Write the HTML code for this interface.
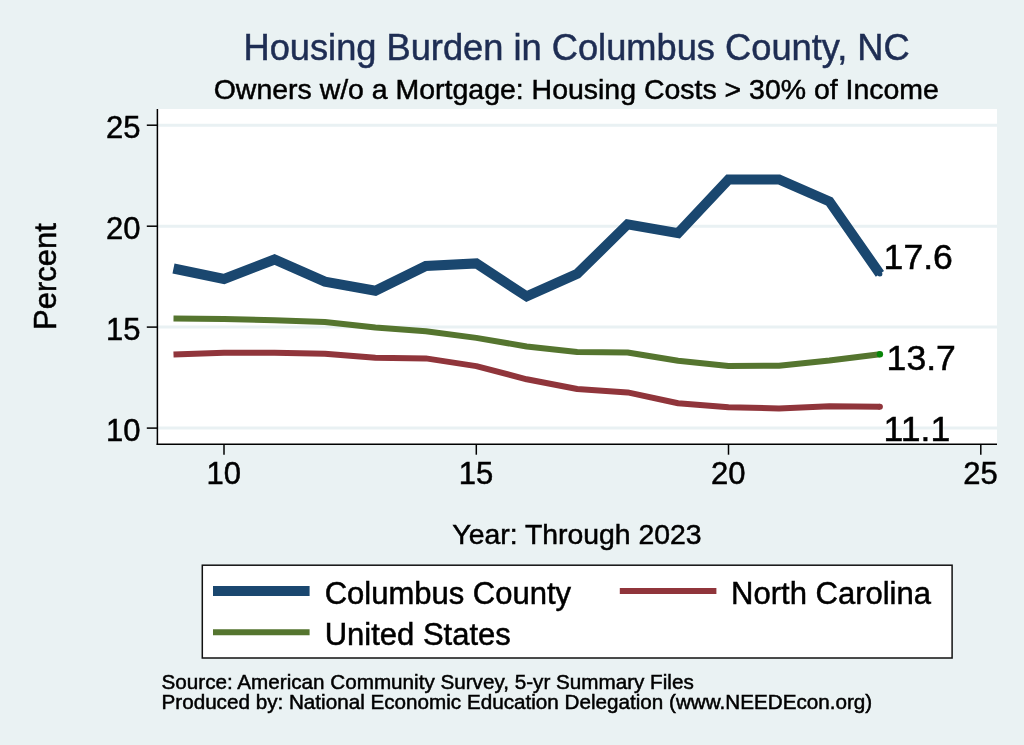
<!DOCTYPE html>
<html><head><meta charset="utf-8"><title>Housing Burden in Columbus County, NC</title>
<style>
html,body{margin:0;padding:0;background:#eaf2f3;}
svg{display:block;font-family:"Liberation Sans",sans-serif;}
text{stroke:#000;stroke-width:0.5px;}
#title{stroke:#1e2d53;}
</style></head><body>
<svg width="1024" height="745" viewBox="0 0 1024 745">
<rect width="1024" height="745" fill="#eaf2f3"/>
<rect x="157" y="109" width="840" height="335.5" fill="#fff"/>
<line x1="158" x2="997" y1="428.1" y2="428.1" stroke="#e9f1f3" stroke-width="3"/><line x1="158" x2="997" y1="327.1" y2="327.1" stroke="#e9f1f3" stroke-width="3"/><line x1="158" x2="997" y1="226.2" y2="226.2" stroke="#e9f1f3" stroke-width="3"/><line x1="158" x2="997" y1="125.2" y2="125.2" stroke="#e9f1f3" stroke-width="3"/>
<line x1="157.4" x2="157.4" y1="109" y2="445.1" stroke="#000" stroke-width="1.5"/>
<line x1="156.6" x2="997" y1="444.3" y2="444.3" stroke="#000" stroke-width="1.6"/>
<line x1="146.8" x2="157.5" y1="428.1" y2="428.1" stroke="#000" stroke-width="1.5"/><text x="140.6" y="441.2" text-anchor="end" font-size="31">10</text><line x1="146.8" x2="157.5" y1="327.1" y2="327.1" stroke="#000" stroke-width="1.5"/><text x="140.6" y="340.2" text-anchor="end" font-size="31">15</text><line x1="146.8" x2="157.5" y1="226.2" y2="226.2" stroke="#000" stroke-width="1.5"/><text x="140.6" y="239.2" text-anchor="end" font-size="31">20</text><line x1="146.8" x2="157.5" y1="125.2" y2="125.2" stroke="#000" stroke-width="1.5"/><text x="140.6" y="138.3" text-anchor="end" font-size="31">25</text>
<line y1="444.3" y2="454.7" x1="224.0" x2="224.0" stroke="#000" stroke-width="1.5"/><text y="483.9" x="223.8" text-anchor="middle" font-size="31">10</text><line y1="444.3" y2="454.7" x1="476.3" x2="476.3" stroke="#000" stroke-width="1.5"/><text y="483.9" x="476.1" text-anchor="middle" font-size="31">15</text><line y1="444.3" y2="454.7" x1="728.5" x2="728.5" stroke="#000" stroke-width="1.5"/><text y="483.9" x="728.3" text-anchor="middle" font-size="31">20</text><line y1="444.3" y2="454.7" x1="980.8" x2="980.8" stroke="#000" stroke-width="1.5"/><text y="483.9" x="980.6" text-anchor="middle" font-size="31">25</text>
<polyline points="173.5,268.5 224.0,279.0 274.5,259.5 324.9,281.6 375.4,290.7 425.8,266.0 476.3,263.4 526.7,296.4 577.2,273.9 627.6,224.3 678.1,233.2 728.5,179.5 779.0,179.5 829.4,201.4 879.9,273.9" fill="none" stroke="#1a476f" stroke-width="10" stroke-linejoin="miter"/>
<polyline points="173.5,354.6 224.0,352.7 274.5,352.7 324.9,353.7 375.4,357.8 425.8,358.4 476.3,366.1 526.7,379.3 577.2,389.0 627.6,392.4 678.1,403.2 728.5,407.2 779.0,408.5 829.4,406.2 879.9,406.8" fill="none" stroke="#90353b" stroke-width="6" stroke-linejoin="round"/>
<polyline points="173.5,318.5 224.0,319.1 274.5,320.3 324.9,322.1 375.4,327.6 425.8,331.3 476.3,337.9 526.7,346.5 577.2,351.9 627.6,352.5 678.1,360.8 728.5,366.1 779.0,365.7 829.4,360.6 879.9,354.2" fill="none" stroke="#55752f" stroke-width="6" stroke-linejoin="round"/>
<circle cx="879.9" cy="406.8" r="3" fill="#90353b"/>
<circle cx="879.9" cy="354.2" r="3.2" fill="#088508"/>
<circle cx="879.9" cy="273.9" r="2.5" fill="#1a476f"/>
<text id="d1" x="883.6" y="268.8" font-size="35.6">17.6</text>
<text id="d2" x="886.6" y="369.8" font-size="35.6">13.7</text>
<text id="d3" x="883.6" y="440.7" font-size="35.6">11.1</text>
<text id="title" x="576.6" y="59.8" text-anchor="middle" font-size="36.25" fill="#1e2d53">Housing Burden in Columbus County, NC</text>
<text id="sub" x="576.3" y="98.8" text-anchor="middle" font-size="28.46">Owners w/o a Mortgage: Housing Costs &gt; 30% of Income</text>
<text id="ylab" transform="translate(55.8,276.6) rotate(-90)" text-anchor="middle" font-size="31">Percent</text>
<text id="xlab" x="577.0" y="543.7" text-anchor="middle" font-size="28.38">Year: Through 2023</text>
<rect x="202.3" y="565.2" width="749.8" height="92.8" fill="#fff" stroke="#111" stroke-width="1.5"/>
<line x1="213" x2="309.6" y1="591" y2="591" stroke="#1a476f" stroke-width="10"/>
<line x1="213" x2="309.6" y1="632.3" y2="632.3" stroke="#55752f" stroke-width="6"/>
<line x1="619.8" x2="716.4" y1="591.1" y2="591.1" stroke="#90353b" stroke-width="6"/>
<text id="l1" x="324.7" y="603.6" font-size="31">Columbus County</text>
<text id="l2" x="324.7" y="644.7" font-size="31">United States</text>
<text id="l3" x="731.1" y="603.6" font-size="31">North Carolina</text>
<text id="n1" x="161.5" y="689.3" font-size="20.67">Source: American Community Survey, 5-yr Summary Files</text>
<text id="n2" x="161.5" y="708.8" font-size="20.67">Produced by: National Economic Education Delegation (www.NEEDEcon.org)</text>
</svg>
</body></html>
